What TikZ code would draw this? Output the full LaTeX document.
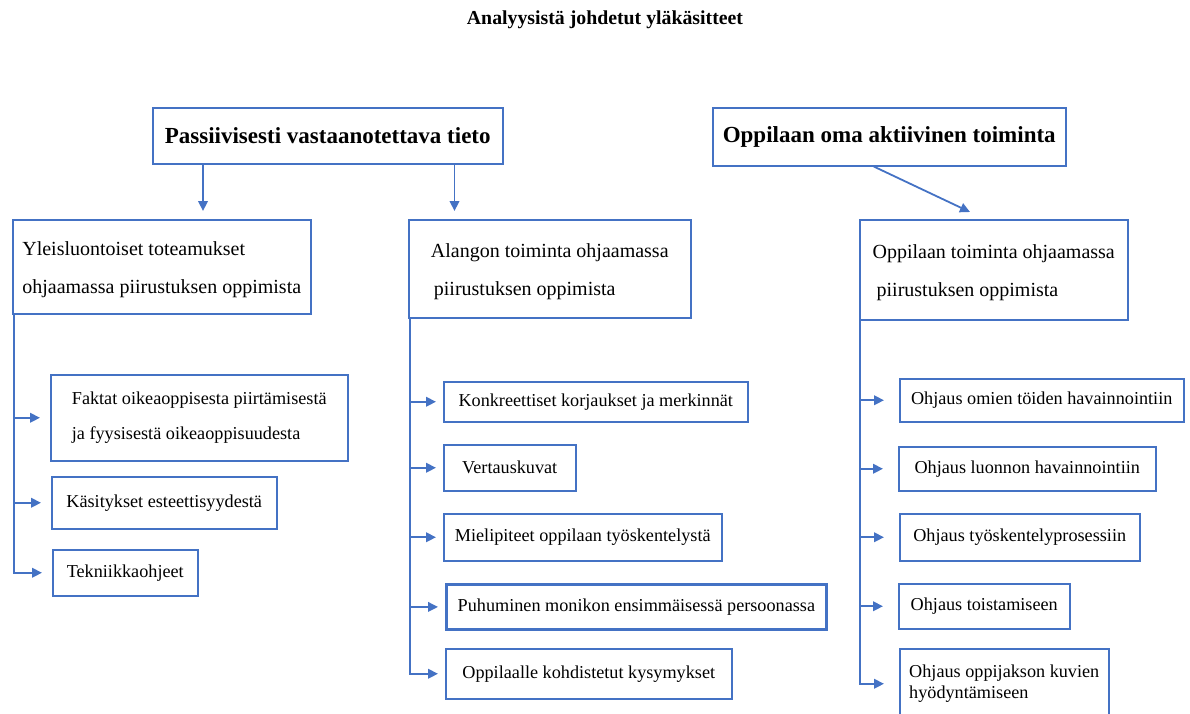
\documentclass[tikz,border=0pt]{standalone}
\usepackage{fontspec}
\setmainfont{Liberation Serif}
\usetikzlibrary{arrows.meta}
\definecolor{sininen}{RGB}{68,114,196}
\tikzset{
  boksi/.style={draw=sininen, line width=0.75pt, anchor=north west, align=left, inner sep=0pt,
    font=\fontsize{9.1pt}{19pt}\selectfont},
  valiboksi/.style={boksi, font=\fontsize{10pt}{19pt}\selectfont},
  otsikko/.style={boksi, align=center, font=\fontsize{11.5pt}{14pt}\selectfont\bfseries},
  nuoli/.style={draw=sininen, line width=0.9pt, ->},
}

\begin{document}
\begin{tikzpicture}[x=0.5pt, y=-0.5pt, >={Triangle[length=5pt,width=4.8pt]}]
\useasboundingbox (0,0) rectangle (1190,713);
\node[font=\fontsize{9.9pt}{12pt}\selectfont\bfseries] (paa) at (605,20) {Analyysistä johdetut yläkäsitteet};

% yläkäsitteet
\node[otsikko, minimum width=175pt, minimum height=28pt] (pass) at (152,107) {Passiivisesti vastaanotettava tieto};
\node[otsikko, minimum width=176.5pt, minimum height=29pt] (akt) at (712,107) {Oppilaan oma aktiivinen toiminta};

% alakäsitteet
\node[valiboksi, minimum width=149pt, minimum height=47pt] (yleis) at (12,219)
  {\rule{0pt}{10pt}Yleisluontoiset toteamukset\\ohjaamassa piirustuksen oppimista};
\node[valiboksi, minimum width=141pt, minimum height=49pt] (alanko) at (408,219)
  {\rule{0pt}{10pt}Alangon toiminta ohjaamassa\\\hspace*{1.5pt}piirustuksen oppimista};
\node[valiboksi, minimum width=134pt, minimum height=50pt] (toim) at (859,219)
  {\rule{0pt}{10pt}Oppilaan toiminta ohjaamassa\\\hspace*{2pt}piirustuksen oppimista};

% vasen sarake
\node[boksi, minimum width=148.5pt, minimum height=43pt, font=\fontsize{9.1pt}{17.5pt}\selectfont] (fakta) at (50,374)
  {Faktat oikeaoppisesta piirtämisestä\\ja fyysisestä oikeaoppisuudesta};
\node[boksi, minimum width=112.5pt, minimum height=26pt] (kasit) at (51,476) {Käsitykset esteettisyydestä};
\node[boksi, minimum width=72.5pt, minimum height=23pt] (tekn) at (52,549) {Tekniikkaohjeet};

% keskimmäinen sarake
\node[boksi, minimum width=152pt, minimum height=20pt] (korj) at (443,381) {Konkreettiset korjaukset ja merkinnät};
\node[boksi, minimum width=66pt, minimum height=23pt] (vert) at (443,444) {Vertauskuvat};
\node[boksi, minimum width=139pt, minimum height=23.5pt] (miel) at (443,513) {Mielipiteet oppilaan työskentelystä};
\node[boksi, minimum width=190pt, minimum height=22.5pt, line width=1.4pt] (puhu) at (445,583) {Puhuminen monikon ensimmäisessä persoonassa};
\node[boksi, minimum width=143pt, minimum height=25pt] (kysy) at (445,648) {Oppilaalle kohdistetut kysymykset};

% oikea sarake
\node[boksi, minimum width=142pt, minimum height=21.5pt] (omat) at (899,378) {Ohjaus omien töiden havainnointiin};
\node[boksi, minimum width=128.5pt, minimum height=22pt] (luonto) at (898,446) {Ohjaus luonnon havainnointiin};
\node[boksi, minimum width=120pt, minimum height=23.5pt] (prosessi) at (899,513) {Ohjaus työskentelyprosessiin};
\node[boksi, minimum width=85.5pt, minimum height=22.5pt] (toisto) at (898,583) {Ohjaus toistamiseen};
\node[boksi, minimum width=104.5pt, minimum height=35pt, font=\fontsize{9.1pt}{10.5pt}\selectfont] (kuvat) at (899,648)
  {Ohjaus oppijakson kuvien\\hyödyntämiseen};

% nuolet ylhäältä
\draw[nuoli, shorten >=4pt] ([xshift=25.5pt]pass.south west) -- ([xshift=25.5pt]pass.south west |- yleis.north);
\draw[nuoli, shorten >=4pt] ([xshift=-24.5pt]pass.south east) -- ([xshift=-24.5pt]pass.south east |- alanko.north);
\coordinate (kohde) at ([xshift=55.5pt, yshift=3.5pt]toim.north west);
\draw[nuoli] ([xshift=-7.75pt]akt.south) -- (kohde);

% haarat
\foreach \b in {fakta,kasit,tekn}
  \draw[nuoli, shorten >=5pt] ([xshift=1pt]yleis.south west) |- (\b.west);
\foreach \b in {korj,vert,miel,puhu,kysy}
  \draw[nuoli, shorten >=3.5pt] ([xshift=1pt]alanko.south west) |- (\b.west);
\foreach \b in {omat,luonto,prosessi,toisto,kuvat}
  \draw[nuoli, shorten >=7.5pt] ([xshift=0.5pt]toim.south west) |- (\b.west);
\end{tikzpicture}
\end{document}
